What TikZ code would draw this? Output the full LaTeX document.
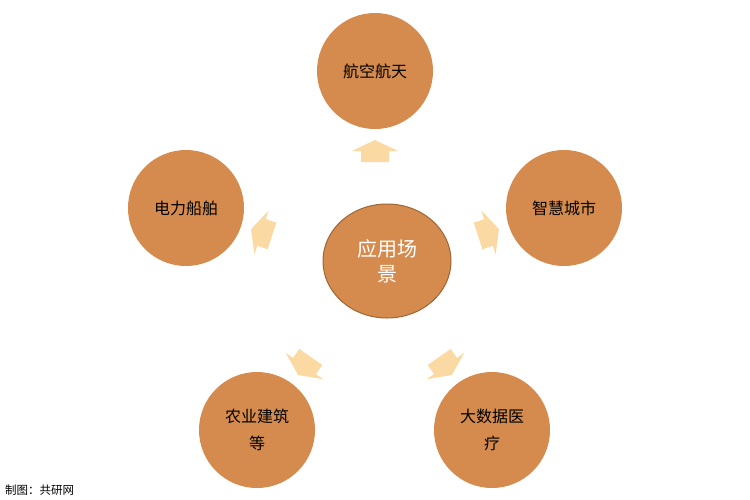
\documentclass[tikz,border=0pt]{standalone}
\usepackage{fontspec}
\newfontfamily\cjk{Noto Sans CJK SC}
\definecolor{circ}{HTML}{D68B4E}
\definecolor{circedge}{HTML}{9E6535}
\definecolor{arrowfill}{HTML}{FADAA2}
\tikzset{
  topic/.style={circle, fill=circ, minimum size=116pt, inner sep=0pt, align=center,
    font=\cjk\fontsize{16}{27}\selectfont, text=black},
  hub/.style={ellipse, fill=circ, draw=circedge, line width=1pt, minimum width=128pt,
    minimum height=114pt, inner sep=0pt, align=center,
    font=\cjk\fontsize{20}{25}\selectfont, text=white},
  blockarrow/.style={fill=arrowfill, draw=none}
}
\usetikzlibrary{shapes.geometric}
\newcommand{\fatarrow}[2]{%
  \begin{scope}[shift={#1}, rotate=#2]
    \fill[blockarrow] (-11,-14) -- (0,-14) -- (0,-23) -- (11,0) -- (0,23) -- (0,14) -- (-11,14) -- cycle;
  \end{scope}}
\begin{document}
\begin{tikzpicture}[x=1pt, y=-1pt]
  \useasboundingbox (0,0) rectangle (750,499);
  \fill[white] (0,0) rectangle (750,499);
  \node[hub] (hub) at (387,261) {应用场\\景};
  \node[topic] (aero) at (375,71) {航空航天};
  \node[topic] (ship) at (186,208) {电力船舶};
  \node[topic] (city) at (564,208) {智慧城市};
  \node[topic] (agri) at (257,430) {农业建筑\\等};
  \node[topic] (med) at (492,430) {大数据医\\疗};
  \fatarrow{(375,151)}{90}
  \fatarrow{(261.5,232.5)}{162}
  \fatarrow{(488.5,232.5)}{18}
  \fatarrow{(304.5,366)}{235}
  \fatarrow{(445.5,366)}{305}
  \node[anchor=west, inner sep=0pt, font=\cjk\fontsize{11.5}{12}\selectfont] (credit) at (5,490) {制图：共研网};
\end{tikzpicture}
\end{document}
